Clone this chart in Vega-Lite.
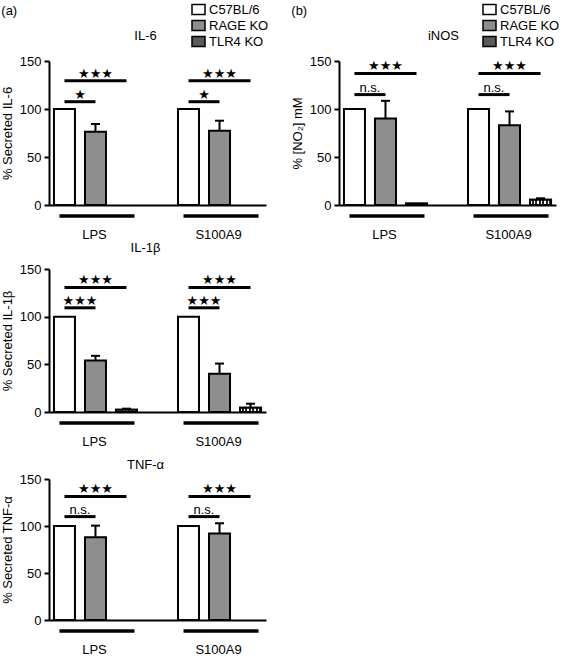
{
  "$schema": "https://vega.github.io/schema/vega-lite/v6.json",
  "padding": {"left": 1, "top": 3, "right": 2, "bottom": 2},
  "background": "white",
  "config": {
    "font": "Liberation Sans",
    "view": {"stroke": null},
    "axis": {"labelFontSize": 13, "titleFontSize": 13, "labelColor": "black", "titleColor": "black", "domainColor": "black", "tickColor": "black", "grid": false, "titleFontWeight": "normal", "domainWidth": 2, "tickWidth": 2, "labelFont": "Liberation Sans", "titleFont": "Liberation Sans"},
    "title": {"fontSize": 13, "fontWeight": "normal", "color": "black", "font": "Liberation Sans"},
    "legend": {"labelFontSize": 13, "labelColor": "black", "labelFont": "Liberation Sans"}
  },
  "datasets": {
    "il6": [
      {"slot": "LPS|C57BL/6", "strain": "C57BL/6", "value": 100},
      {"slot": "LPS|RAGE KO", "strain": "RAGE KO", "value": 76.4, "upper": 84.4},
      {"slot": "S100A9|C57BL/6", "strain": "C57BL/6", "value": 100},
      {"slot": "S100A9|RAGE KO", "strain": "RAGE KO", "value": 77.4, "upper": 87.8}
    ],
    "il1b": [
      {"slot": "LPS|C57BL/6", "strain": "C57BL/6", "value": 100},
      {"slot": "LPS|RAGE KO", "strain": "RAGE KO", "value": 54, "upper": 58.9},
      {"slot": "LPS|TLR4 KO", "strain": "TLR4 KO", "value": 2.4, "upper": 3.5},
      {"slot": "S100A9|C57BL/6", "strain": "C57BL/6", "value": 100},
      {"slot": "S100A9|RAGE KO", "strain": "RAGE KO", "value": 40, "upper": 50.8},
      {"slot": "S100A9|TLR4 KO", "strain": "TLR4 KO", "value": 4.5, "upper": 8.7}
    ],
    "tnf": [
      {"slot": "LPS|C57BL/6", "strain": "C57BL/6", "value": 100},
      {"slot": "LPS|RAGE KO", "strain": "RAGE KO", "value": 88, "upper": 100.4},
      {"slot": "S100A9|C57BL/6", "strain": "C57BL/6", "value": 100},
      {"slot": "S100A9|RAGE KO", "strain": "RAGE KO", "value": 92, "upper": 102.9}
    ],
    "inos": [
      {"slot": "LPS|C57BL/6", "strain": "C57BL/6", "value": 100},
      {"slot": "LPS|RAGE KO", "strain": "RAGE KO", "value": 90, "upper": 108.5},
      {"slot": "LPS|TLR4 KO", "strain": "TLR4 KO", "value": 1.5},
      {"slot": "S100A9|C57BL/6", "strain": "C57BL/6", "value": 100},
      {"slot": "S100A9|RAGE KO", "strain": "RAGE KO", "value": 83, "upper": 97.5},
      {"slot": "S100A9|TLR4 KO", "strain": "TLR4 KO", "value": 5.5, "upper": 7}
    ],
    "sig_il6": [
      {"from": "LPS|C57BL/6", "to": "LPS|RAGE KO", "span": "short", "level": 107.6, "label": "★"},
      {"from": "LPS|C57BL/6", "to": "LPS|TLR4 KO", "span": "long", "level": 129.5, "label": "★★★"},
      {"from": "S100A9|C57BL/6", "to": "S100A9|RAGE KO", "span": "short", "level": 107.6, "label": "★"},
      {"from": "S100A9|C57BL/6", "to": "S100A9|TLR4 KO", "span": "long", "level": 129.5, "label": "★★★"}
    ],
    "sig_il1b": [
      {"from": "LPS|C57BL/6", "to": "LPS|RAGE KO", "span": "short", "level": 109.3, "label": "★★★"},
      {"from": "LPS|C57BL/6", "to": "LPS|TLR4 KO", "span": "long", "level": 130.7, "label": "★★★"},
      {"from": "S100A9|C57BL/6", "to": "S100A9|RAGE KO", "span": "short", "level": 109.3, "label": "★★★"},
      {"from": "S100A9|C57BL/6", "to": "S100A9|TLR4 KO", "span": "long", "level": 130.7, "label": "★★★"}
    ],
    "sig_tnf": [
      {"from": "LPS|C57BL/6", "to": "LPS|RAGE KO", "span": "short", "level": 110, "label": "n.s."},
      {"from": "LPS|C57BL/6", "to": "LPS|TLR4 KO", "span": "long", "level": 131.5, "label": "★★★"},
      {"from": "S100A9|C57BL/6", "to": "S100A9|RAGE KO", "span": "short", "level": 110, "label": "n.s."},
      {"from": "S100A9|C57BL/6", "to": "S100A9|TLR4 KO", "span": "long", "level": 131.5, "label": "★★★"}
    ],
    "sig_inos": [
      {"from": "LPS|C57BL/6", "to": "LPS|RAGE KO", "span": "short", "level": 115, "label": "n.s."},
      {"from": "LPS|C57BL/6", "to": "LPS|TLR4 KO", "span": "long", "level": 137, "label": "★★★"},
      {"from": "S100A9|C57BL/6", "to": "S100A9|RAGE KO", "span": "short", "level": 115, "label": "n.s."},
      {"from": "S100A9|C57BL/6", "to": "S100A9|TLR4 KO", "span": "long", "level": 137, "label": "★★★"}
    ],
    "groups": [
      {"stim": "LPS", "from": "LPS|C57BL/6", "to": "LPS|TLR4 KO"},
      {"stim": "S100A9", "from": "S100A9|C57BL/6", "to": "S100A9|TLR4 KO"}
    ]
  },
  "resolve": {"scale": {"fill": "independent"}, "legend": {"fill": "independent"}},
  "spacing": 22,
  "hconcat": [
    {
      "title": {"text": "(a)", "anchor": "start", "offset": -15},
      "spacing": 1,
      "resolve": {"scale": {"fill": "independent"}, "legend": {"fill": "independent"}},
      "vconcat": [
        {
          "width": 217, "height": 144,
          "title": {"text": "IL-6", "dx": -12, "offset": -40},
          "layer": [
            {"data": {"name": "il6"}, "mark": {"type": "bar", "stroke": "black", "strokeWidth": 2},
             "encoding": {
               "x": {"field": "slot", "type": "nominal", "scale": {"domain": ["LPS|C57BL/6", "LPS|RAGE KO", "LPS|TLR4 KO", "gap", "S100A9|C57BL/6", "S100A9|RAGE KO", "S100A9|TLR4 KO"], "paddingInner": 0.3226, "paddingOuter": 0.16}, "axis": {"title": null, "ticks": false, "labelAngle": 0, "labelPadding": 23, "labelOffset": -1, "labelExpr": "indexof(datum.value, 'RAGE') >= 0 ? split(datum.value, '|')[0] : ''"}},
               "y": {"field": "value", "type": "quantitative", "scale": {"domain": [0, 150], "nice": false}, "axis": {"values": [0, 50, 100, 150], "title": "% Secreted IL-6", "tickSize": 5, "labelPadding": 3, "titlePadding": 5}},
               "fill": {"field": "strain", "type": "nominal", "scale": {"domain": ["C57BL/6", "RAGE KO", "TLR4 KO"], "range": ["#ffffff", "#8e8e8e", "#5a5a5a"]},
                        "legend": {"orient": "none", "legendX": 143, "legendY": -58, "title": null, "symbolType": "M-1.3,-1H1.3V1H-1.3Z", "symbolSize": 100, "symbolOpacity": 1, "rowPadding": -1, "labelOffset": 4,
                          "encode": {"symbols": {"stroke": {"value": "black"}, "strokeWidth": {"value": 1.5},
                            "fill": {"condition": [{"test": "datum.value === 'TLR4 KO'", "value": {"gradient": "linear", "x1": 0, "y1": 0, "x2": 1, "y2": 0, "stops": [{"offset": 0, "color": "#ffffff"}, {"offset": 0.1, "color": "#ffffff"}, {"offset": 0.1, "color": "#222222"}, {"offset": 0.2, "color": "#222222"}, {"offset": 0.2, "color": "#ffffff"}, {"offset": 0.3, "color": "#ffffff"}, {"offset": 0.3, "color": "#222222"}, {"offset": 0.4, "color": "#222222"}, {"offset": 0.4, "color": "#ffffff"}, {"offset": 0.5, "color": "#ffffff"}, {"offset": 0.5, "color": "#222222"}, {"offset": 0.6, "color": "#222222"}, {"offset": 0.6, "color": "#ffffff"}, {"offset": 0.7, "color": "#ffffff"}, {"offset": 0.7, "color": "#222222"}, {"offset": 0.8, "color": "#222222"}, {"offset": 0.8, "color": "#ffffff"}, {"offset": 0.9, "color": "#ffffff"}, {"offset": 0.9, "color": "#222222"}, {"offset": 1, "color": "#222222"}]}}, {"test": "datum.value === 'RAGE KO'", "value": "#8e8e8e"}], "value": "#ffffff"}}}}}
             }},
            {"data": {"name": "il6"}, "transform": [{"filter": "isValid(datum.upper)"}], "mark": {"type": "rule", "strokeWidth": 2, "color": "black"},
             "encoding": {"x": {"field": "slot", "type": "nominal"}, "y": {"field": "value", "type": "quantitative"}, "y2": {"field": "upper"}}},
            {"data": {"name": "il6"}, "transform": [{"filter": "isValid(datum.upper)"}], "mark": {"type": "tick", "orient": "horizontal", "size": 9, "thickness": 2, "color": "black", "opacity": 1},
             "encoding": {"x": {"field": "slot", "type": "nominal"}, "y": {"field": "upper", "type": "quantitative"}}},
            {"data": {"name": "sig_il6"}, "mark": {"type": "rule", "strokeWidth": 3, "color": "black"},
             "encoding": {"x": {"field": "from", "type": "nominal"}, "x2": {"field": "to"}, "y": {"field": "level", "type": "quantitative"}}},
            {"data": {"name": "sig_il6"}, "transform": [{"filter": "datum.span == 'short'"}], "mark": {"type": "text", "dx": 15.5, "dy": -3, "baseline": "alphabetic", "fontSize": 13, "font": "DejaVu Sans", "color": "black"},
             "encoding": {"x": {"field": "from", "type": "nominal"}, "y": {"field": "level", "type": "quantitative"}, "text": {"field": "label"}}},
            {"data": {"name": "sig_il6"}, "transform": [{"filter": "datum.span == 'long'"}], "mark": {"type": "text", "dx": 31, "dy": -3, "baseline": "alphabetic", "fontSize": 13, "font": "DejaVu Sans", "color": "black"},
             "encoding": {"x": {"field": "from", "type": "nominal"}, "y": {"field": "level", "type": "quantitative"}, "text": {"field": "label"}}},
            {"data": {"name": "groups"}, "mark": {"type": "rule", "strokeWidth": 3.5, "color": "black", "xOffset": -5, "x2Offset": 8, "yOffset": 11},
             "encoding": {"x": {"field": "from", "type": "nominal"}, "x2": {"field": "to"}, "y": {"datum": 0}}}
          ]
        },
        {
          "spacing": 11,
          "resolve": {"scale": {"fill": "independent"}, "legend": {"fill": "independent"}},
          "vconcat": [
            {
              "width": 217, "height": 143,
              "title": {"text": "IL-1β", "dx": -12, "offset": 8},
              "layer": [
                {"data": {"name": "il1b"}, "mark": {"type": "bar", "stroke": "black", "strokeWidth": 2},
                 "encoding": {
                   "x": {"field": "slot", "type": "nominal", "scale": {"domain": ["LPS|C57BL/6", "LPS|RAGE KO", "LPS|TLR4 KO", "gap", "S100A9|C57BL/6", "S100A9|RAGE KO", "S100A9|TLR4 KO"], "paddingInner": 0.3226, "paddingOuter": 0.16}, "axis": {"title": null, "ticks": false, "labelAngle": 0, "labelPadding": 23, "labelOffset": -1, "labelExpr": "indexof(datum.value, 'RAGE') >= 0 ? split(datum.value, '|')[0] : ''"}},
                   "y": {"field": "value", "type": "quantitative", "scale": {"domain": [0, 150], "nice": false}, "axis": {"values": [0, 50, 100, 150], "title": "% Secreted IL-1β", "tickSize": 5, "labelPadding": 3, "titlePadding": 5}},
                   "fill": {"field": "strain", "type": "nominal", "scale": {"domain": ["C57BL/6", "RAGE KO", "TLR4 KO"], "range": ["#ffffff", "#8e8e8e", "#5a5a5a"]}, "legend": null}
                 }},
                {"data": {"name": "il1b"}, "transform": [{"filter": "datum.strain === 'TLR4 KO'"}], "mark": {"type": "bar", "stroke": "black", "strokeWidth": 2, "fill": {"gradient": "linear", "x1": 0, "y1": 0, "x2": 1, "y2": 0, "stops": [{"offset": 0, "color": "#ffffff"}, {"offset": 0.08, "color": "#ffffff"}, {"offset": 0.08, "color": "#222222"}, {"offset": 0.1667, "color": "#222222"}, {"offset": 0.1667, "color": "#ffffff"}, {"offset": 0.25, "color": "#ffffff"}, {"offset": 0.25, "color": "#222222"}, {"offset": 0.3333, "color": "#222222"}, {"offset": 0.3333, "color": "#ffffff"}, {"offset": 0.4167, "color": "#ffffff"}, {"offset": 0.4167, "color": "#222222"}, {"offset": 0.5, "color": "#222222"}, {"offset": 0.5, "color": "#ffffff"}, {"offset": 0.5833, "color": "#ffffff"}, {"offset": 0.5833, "color": "#222222"}, {"offset": 0.6667, "color": "#222222"}, {"offset": 0.6667, "color": "#ffffff"}, {"offset": 0.75, "color": "#ffffff"}, {"offset": 0.75, "color": "#222222"}, {"offset": 0.8333, "color": "#222222"}, {"offset": 0.8333, "color": "#ffffff"}, {"offset": 0.9167, "color": "#ffffff"}, {"offset": 0.9167, "color": "#222222"}, {"offset": 1, "color": "#222222"}]}},
                 "encoding": {"x": {"field": "slot", "type": "nominal"}, "y": {"field": "value", "type": "quantitative"}}},
                {"data": {"name": "il1b"}, "transform": [{"filter": "isValid(datum.upper)"}], "mark": {"type": "rule", "strokeWidth": 2, "color": "black"},
                 "encoding": {"x": {"field": "slot", "type": "nominal"}, "y": {"field": "value", "type": "quantitative"}, "y2": {"field": "upper"}}},
                {"data": {"name": "il1b"}, "transform": [{"filter": "isValid(datum.upper)"}], "mark": {"type": "tick", "orient": "horizontal", "size": 9, "thickness": 2, "color": "black", "opacity": 1},
                 "encoding": {"x": {"field": "slot", "type": "nominal"}, "y": {"field": "upper", "type": "quantitative"}}},
                {"data": {"name": "sig_il1b"}, "mark": {"type": "rule", "strokeWidth": 3, "color": "black"},
                 "encoding": {"x": {"field": "from", "type": "nominal"}, "x2": {"field": "to"}, "y": {"field": "level", "type": "quantitative"}}},
                {"data": {"name": "sig_il1b"}, "transform": [{"filter": "datum.span == 'short'"}], "mark": {"type": "text", "dx": 15.5, "dy": -3, "baseline": "alphabetic", "fontSize": 13, "font": "DejaVu Sans", "color": "black"},
                 "encoding": {"x": {"field": "from", "type": "nominal"}, "y": {"field": "level", "type": "quantitative"}, "text": {"field": "label"}}},
                {"data": {"name": "sig_il1b"}, "transform": [{"filter": "datum.span == 'long'"}], "mark": {"type": "text", "dx": 31, "dy": -3, "baseline": "alphabetic", "fontSize": 13, "font": "DejaVu Sans", "color": "black"},
                 "encoding": {"x": {"field": "from", "type": "nominal"}, "y": {"field": "level", "type": "quantitative"}, "text": {"field": "label"}}},
                {"data": {"name": "groups"}, "mark": {"type": "rule", "strokeWidth": 3.5, "color": "black", "xOffset": -5, "x2Offset": 8, "yOffset": 11},
                 "encoding": {"x": {"field": "from", "type": "nominal"}, "x2": {"field": "to"}, "y": {"datum": 0}}}
              ]
            },
            {
              "width": 217, "height": 141,
              "title": {"text": "TNF-α", "dx": -12, "offset": 1},
              "layer": [
                {"data": {"name": "tnf"}, "mark": {"type": "bar", "stroke": "black", "strokeWidth": 2},
                 "encoding": {
                   "x": {"field": "slot", "type": "nominal", "scale": {"domain": ["LPS|C57BL/6", "LPS|RAGE KO", "LPS|TLR4 KO", "gap", "S100A9|C57BL/6", "S100A9|RAGE KO", "S100A9|TLR4 KO"], "paddingInner": 0.3226, "paddingOuter": 0.16}, "axis": {"title": null, "ticks": false, "labelAngle": 0, "labelPadding": 23, "labelOffset": -1, "labelExpr": "indexof(datum.value, 'RAGE') >= 0 ? split(datum.value, '|')[0] : ''"}},
                   "y": {"field": "value", "type": "quantitative", "scale": {"domain": [0, 150], "nice": false}, "axis": {"values": [0, 50, 100, 150], "title": "% Secreted TNF-α", "tickSize": 5, "labelPadding": 3, "titlePadding": 5}},
                   "fill": {"field": "strain", "type": "nominal", "scale": {"domain": ["C57BL/6", "RAGE KO", "TLR4 KO"], "range": ["#ffffff", "#8e8e8e", "#5a5a5a"]}, "legend": null}
                 }},
                {"data": {"name": "tnf"}, "transform": [{"filter": "isValid(datum.upper)"}], "mark": {"type": "rule", "strokeWidth": 2, "color": "black"},
                 "encoding": {"x": {"field": "slot", "type": "nominal"}, "y": {"field": "value", "type": "quantitative"}, "y2": {"field": "upper"}}},
                {"data": {"name": "tnf"}, "transform": [{"filter": "isValid(datum.upper)"}], "mark": {"type": "tick", "orient": "horizontal", "size": 9, "thickness": 2, "color": "black", "opacity": 1},
                 "encoding": {"x": {"field": "slot", "type": "nominal"}, "y": {"field": "upper", "type": "quantitative"}}},
                {"data": {"name": "sig_tnf"}, "mark": {"type": "rule", "strokeWidth": 3, "color": "black"},
                 "encoding": {"x": {"field": "from", "type": "nominal"}, "x2": {"field": "to"}, "y": {"field": "level", "type": "quantitative"}}},
                {"data": {"name": "sig_tnf"}, "transform": [{"filter": "datum.span == 'short'"}], "mark": {"type": "text", "dx": 15.5, "dy": -3, "baseline": "alphabetic", "fontSize": 13, "font": "Liberation Sans", "color": "black"},
                 "encoding": {"x": {"field": "from", "type": "nominal"}, "y": {"field": "level", "type": "quantitative"}, "text": {"field": "label"}}},
                {"data": {"name": "sig_tnf"}, "transform": [{"filter": "datum.span == 'long'"}], "mark": {"type": "text", "dx": 31, "dy": -3, "baseline": "alphabetic", "fontSize": 13, "font": "DejaVu Sans", "color": "black"},
                 "encoding": {"x": {"field": "from", "type": "nominal"}, "y": {"field": "level", "type": "quantitative"}, "text": {"field": "label"}}},
                {"data": {"name": "groups"}, "mark": {"type": "rule", "strokeWidth": 3.5, "color": "black", "xOffset": -5, "x2Offset": 8, "yOffset": 11},
                 "encoding": {"x": {"field": "from", "type": "nominal"}, "x2": {"field": "to"}, "y": {"datum": 0}}}
              ]
            }
          ]
        }
      ]
    },
    {
      "title": {"text": "(b)", "anchor": "start", "offset": -15},
      "resolve": {"scale": {"fill": "independent"}, "legend": {"fill": "independent"}},
      "vconcat": [
        {
          "width": 217, "height": 144,
          "title": {"text": "iNOS", "dx": -4, "offset": -40},
          "layer": [
            {"data": {"name": "inos"}, "mark": {"type": "bar", "stroke": "black", "strokeWidth": 2},
             "encoding": {
               "x": {"field": "slot", "type": "nominal", "scale": {"domain": ["LPS|C57BL/6", "LPS|RAGE KO", "LPS|TLR4 KO", "gap", "S100A9|C57BL/6", "S100A9|RAGE KO", "S100A9|TLR4 KO"], "paddingInner": 0.3226, "paddingOuter": 0.16}, "axis": {"title": null, "ticks": false, "labelAngle": 0, "labelPadding": 23, "labelOffset": -1, "labelExpr": "indexof(datum.value, 'RAGE') >= 0 ? split(datum.value, '|')[0] : ''"}},
               "y": {"field": "value", "type": "quantitative", "scale": {"domain": [0, 150], "nice": false}, "axis": {"values": [0, 50, 100, 150], "title": "% [NO₂] mM", "tickSize": 5, "labelPadding": 3, "titlePadding": 5}},
               "fill": {"field": "strain", "type": "nominal", "scale": {"domain": ["C57BL/6", "RAGE KO", "TLR4 KO"], "range": ["#ffffff", "#8e8e8e", "#5a5a5a"]},
                        "legend": {"orient": "none", "legendX": 144, "legendY": -58, "title": null, "symbolType": "M-1.3,-1H1.3V1H-1.3Z", "symbolSize": 100, "symbolOpacity": 1, "rowPadding": -1, "labelOffset": 4,
                          "encode": {"symbols": {"stroke": {"value": "black"}, "strokeWidth": {"value": 1.5},
                            "fill": {"condition": [{"test": "datum.value === 'TLR4 KO'", "value": {"gradient": "linear", "x1": 0, "y1": 0, "x2": 1, "y2": 0, "stops": [{"offset": 0, "color": "#ffffff"}, {"offset": 0.1, "color": "#ffffff"}, {"offset": 0.1, "color": "#222222"}, {"offset": 0.2, "color": "#222222"}, {"offset": 0.2, "color": "#ffffff"}, {"offset": 0.3, "color": "#ffffff"}, {"offset": 0.3, "color": "#222222"}, {"offset": 0.4, "color": "#222222"}, {"offset": 0.4, "color": "#ffffff"}, {"offset": 0.5, "color": "#ffffff"}, {"offset": 0.5, "color": "#222222"}, {"offset": 0.6, "color": "#222222"}, {"offset": 0.6, "color": "#ffffff"}, {"offset": 0.7, "color": "#ffffff"}, {"offset": 0.7, "color": "#222222"}, {"offset": 0.8, "color": "#222222"}, {"offset": 0.8, "color": "#ffffff"}, {"offset": 0.9, "color": "#ffffff"}, {"offset": 0.9, "color": "#222222"}, {"offset": 1, "color": "#222222"}]}}, {"test": "datum.value === 'RAGE KO'", "value": "#8e8e8e"}], "value": "#ffffff"}}}}}
             }},
            {"data": {"name": "inos"}, "transform": [{"filter": "datum.strain === 'TLR4 KO'"}], "mark": {"type": "bar", "stroke": "black", "strokeWidth": 2, "fill": {"gradient": "linear", "x1": 0, "y1": 0, "x2": 1, "y2": 0, "stops": [{"offset": 0, "color": "#ffffff"}, {"offset": 0.08, "color": "#ffffff"}, {"offset": 0.08, "color": "#222222"}, {"offset": 0.1667, "color": "#222222"}, {"offset": 0.1667, "color": "#ffffff"}, {"offset": 0.25, "color": "#ffffff"}, {"offset": 0.25, "color": "#222222"}, {"offset": 0.3333, "color": "#222222"}, {"offset": 0.3333, "color": "#ffffff"}, {"offset": 0.4167, "color": "#ffffff"}, {"offset": 0.4167, "color": "#222222"}, {"offset": 0.5, "color": "#222222"}, {"offset": 0.5, "color": "#ffffff"}, {"offset": 0.5833, "color": "#ffffff"}, {"offset": 0.5833, "color": "#222222"}, {"offset": 0.6667, "color": "#222222"}, {"offset": 0.6667, "color": "#ffffff"}, {"offset": 0.75, "color": "#ffffff"}, {"offset": 0.75, "color": "#222222"}, {"offset": 0.8333, "color": "#222222"}, {"offset": 0.8333, "color": "#ffffff"}, {"offset": 0.9167, "color": "#ffffff"}, {"offset": 0.9167, "color": "#222222"}, {"offset": 1, "color": "#222222"}]}},
             "encoding": {"x": {"field": "slot", "type": "nominal"}, "y": {"field": "value", "type": "quantitative"}}},
            {"data": {"name": "inos"}, "transform": [{"filter": "isValid(datum.upper)"}], "mark": {"type": "rule", "strokeWidth": 2, "color": "black"},
             "encoding": {"x": {"field": "slot", "type": "nominal"}, "y": {"field": "value", "type": "quantitative"}, "y2": {"field": "upper"}}},
            {"data": {"name": "inos"}, "transform": [{"filter": "isValid(datum.upper)"}], "mark": {"type": "tick", "orient": "horizontal", "size": 9, "thickness": 2, "color": "black", "opacity": 1},
             "encoding": {"x": {"field": "slot", "type": "nominal"}, "y": {"field": "upper", "type": "quantitative"}}},
            {"data": {"name": "sig_inos"}, "mark": {"type": "rule", "strokeWidth": 3, "color": "black"},
             "encoding": {"x": {"field": "from", "type": "nominal"}, "x2": {"field": "to"}, "y": {"field": "level", "type": "quantitative"}}},
            {"data": {"name": "sig_inos"}, "transform": [{"filter": "datum.span == 'short'"}], "mark": {"type": "text", "dx": 15.5, "dy": -3, "baseline": "alphabetic", "fontSize": 13, "font": "Liberation Sans", "color": "black"},
             "encoding": {"x": {"field": "from", "type": "nominal"}, "y": {"field": "level", "type": "quantitative"}, "text": {"field": "label"}}},
            {"data": {"name": "sig_inos"}, "transform": [{"filter": "datum.span == 'long'"}], "mark": {"type": "text", "dx": 31, "dy": -3, "baseline": "alphabetic", "fontSize": 13, "font": "DejaVu Sans", "color": "black"},
             "encoding": {"x": {"field": "from", "type": "nominal"}, "y": {"field": "level", "type": "quantitative"}, "text": {"field": "label"}}},
            {"data": {"name": "groups"}, "mark": {"type": "rule", "strokeWidth": 3.5, "color": "black", "xOffset": -5, "x2Offset": 8, "yOffset": 11},
             "encoding": {"x": {"field": "from", "type": "nominal"}, "x2": {"field": "to"}, "y": {"datum": 0}}}
          ]
        }
      ]
    }
  ]
}
